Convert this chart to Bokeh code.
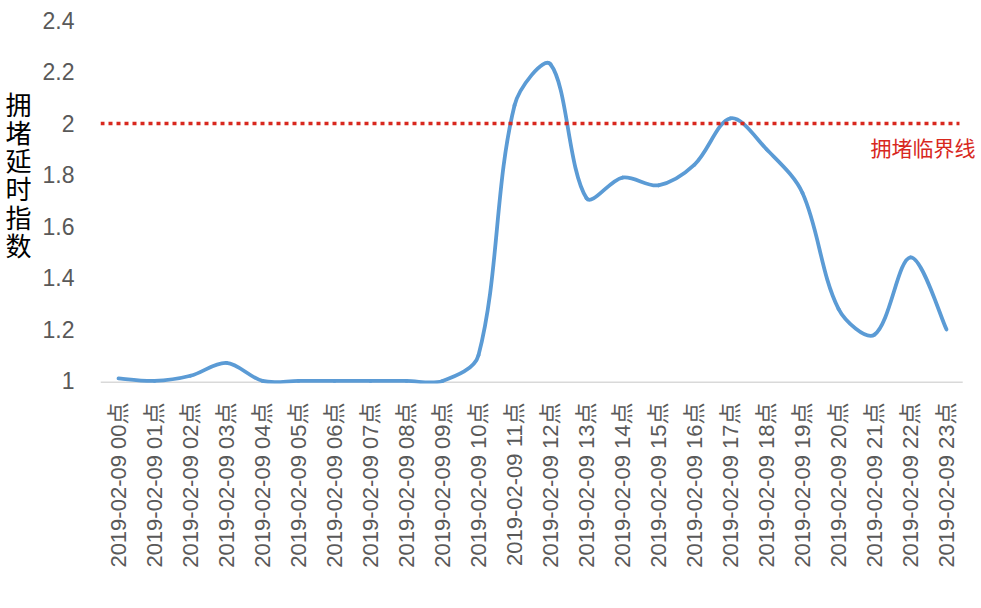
import numpy as np
from bokeh.plotting import figure
from bokeh.models import Range1d, FixedTicker, Label, CustomJSTickFormatter
from bokeh.embed import file_html
from bokeh.resources import INLINE

# ---- data ----
categories = [
    "2019-02-09 00点", "2019-02-09 01点", "2019-02-09 02点", "2019-02-09 03点",
    "2019-02-09 04点", "2019-02-09 05点", "2019-02-09 06点", "2019-02-09 07点",
    "2019-02-09 08点", "2019-02-09 09点", "2019-02-09 10点", "2019-02-09 11点",
    "2019-02-09 12点", "2019-02-09 13点", "2019-02-09 14点", "2019-02-09 15点",
    "2019-02-09 16点", "2019-02-09 17点", "2019-02-09 18点", "2019-02-09 19点",
    "2019-02-09 20点", "2019-02-09 21点", "2019-02-09 22点", "2019-02-09 23点",
]
values = [1.01, 1.00, 1.02, 1.07, 1.00, 1.00, 1.00, 1.00, 1.00, 1.00, 1.10, 2.07,
          2.23, 1.71, 1.79, 1.76, 1.84, 2.02, 1.90, 1.73, 1.28, 1.18, 1.48, 1.20]
critical_value = 2.0
critical_label = "拥堵临界线"
y_ticks = [1.0, 1.2, 1.4, 1.6, 1.8, 2.0, 2.2, 2.4]
y_title = "拥堵延时指数"

BLUE = "#5B9BD5"
RED = "#D8281E"
GRAY = "#595959"
FONT = "'Liberation Sans', 'Noto Sans CJK SC'"

p = figure(width=981, height=608,
           x_range=Range1d(-0.5, 23.833), y_range=Range1d(0.99, 2.4),
           output_backend="svg", toolbar_location=None,
           min_border_left=100, min_border_right=5,
           min_border_top=20, min_border_bottom=225)
p.outline_line_color = None
p.grid.visible = False

# baseline of the category axis (ends at the last category's edge)
n = len(categories)
p.segment(x0=[-0.5], x1=[n - 0.55], y0=[0.9945], y1=[0.9945],
          line_color="#D9D9D9", line_width=1.5)

# smoothed line (Excel-like bezier through the data points)
XS, YS = 36.0, 257.4  # pixel size of one x / y unit, for chord lengths
x = np.arange(n, dtype=float)
y = np.array(values, dtype=float)
xe = np.concatenate([[x[0]], x, [x[-1]]])
ye = np.concatenate([[y[0]], y, [y[-1]]])
seg = np.hypot(np.diff(x) * XS, np.diff(y) * YS)          # length of segment i -> i+1
d_prev = np.concatenate([[seg[0]], seg])                   # length before point i
d_next = np.concatenate([seg, [seg[-1]]])                  # length after point i
tx = xe[2:] - xe[:-2]
ty = ye[2:] - ye[:-2]
f_out = d_next / (d_prev + d_next) / 3.0
f_in = d_prev / (d_prev + d_next) / 3.0
cx0 = x[:-1] + tx[:-1] * f_out[:-1]
cy0 = y[:-1] + ty[:-1] * f_out[:-1]
cx1 = x[1:] - tx[1:] * f_in[1:]
cy1 = y[1:] - ty[1:] * f_in[1:]
p.bezier(x0=x[:-1], y0=y[:-1], x1=x[1:], y1=y[1:], cx0=cx0, cy0=cy0, cx1=cx1, cy1=cy1,
         line_color=BLUE, line_width=3.8, line_cap="round")

# critical line and its label
p.segment(x0=[-0.5], x1=[n - 0.64], y0=[critical_value], y1=[critical_value],
          line_color=RED, line_width=3.5, line_dash="4 4")
p.add_layout(Label(x=20.89, y=1.91, text=critical_label, text_align="left",
                   text_baseline="middle", text_font_size="21px", text_color=RED,
                   text_font="Noto Sans CJK SC"))

# axes
p.xaxis.ticker = FixedTicker(ticks=list(range(n)))
p.xaxis.formatter = CustomJSTickFormatter(args=dict(labels=categories),
                                          code="const i = Math.round(tick); return (i >= 0 && i < labels.length) ? labels[i] : '';")
p.xaxis.major_label_orientation = np.pi / 2
p.xaxis.major_label_text_font_size = "22px"
p.xaxis.major_label_text_color = GRAY
p.xaxis.major_label_text_font = FONT
p.xaxis.major_label_standoff = 13
p.xaxis.axis_line_color = None
p.xaxis.major_tick_line_color = None
p.xaxis.minor_tick_line_color = None

p.yaxis.ticker = FixedTicker(ticks=y_ticks)
p.yaxis.formatter = CustomJSTickFormatter(code="return Number(tick.toFixed(1)).toString();")
p.yaxis.major_label_text_font_size = "23px"
p.yaxis.major_label_text_color = GRAY
p.yaxis.major_label_text_font = FONT
p.yaxis.major_label_standoff = 20
p.yaxis.axis_line_color = None
p.yaxis.major_tick_line_color = None
p.yaxis.minor_tick_line_color = None

# stacked (upright) y-axis title
p.yaxis.axis_label = "\n".join(list(y_title) + [" ", " "])
p.yaxis.axis_label_orientation = "horizontal"
p.yaxis.axis_label_text_font = "Noto Sans CJK SC"
p.yaxis.axis_label_text_font_size = "26px"
p.yaxis.axis_label_text_font_style = "normal"
p.yaxis.axis_label_text_color = "black"
p.yaxis.axis_label_text_line_height = 0.76
p.yaxis.axis_label_standoff = 8

open("out.html", "w").write(file_html(p, INLINE))
